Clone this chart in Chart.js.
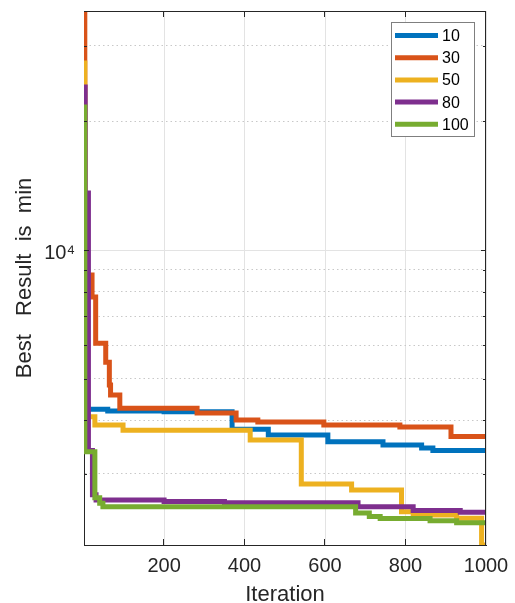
<!DOCTYPE html>
<html>
<head>
<meta charset="utf-8">
<script src="https://cdn.jsdelivr.net/npm/chart.js@4.4.1/dist/chart.umd.min.js"></script>
<style>
  html, body { margin: 0; padding: 0; background: #ffffff; }
  #wrap { width: 515px; height: 603px; }
</style>
</head>
<body>
<div id="wrap"><canvas id="chart" width="515" height="603"></canvas></div>
<script>
// Series labels and MATLAB default colours
const SERIES_LABELS = ['10', '30', '50', '80', '100'];
const SERIES_COLORS = ['#0072BD', '#D95319', '#EDB120', '#7E2F8E', '#77AC30'];

// Step points: iteration where a new best value starts
const iter10 = [1, 4, 60, 200, 369, 459, 607, 744, 840, 868, 1000];
const best10 = [5300, 4250, 4210, 4190, 3813, 3697, 3566, 3503, 3449, 3401, 3401];

const iter30 = [1, 3, 21, 30, 55, 64, 67, 90, 282, 379, 433, 597, 786, 913, 1000];
const best30 = [36200, 8743, 7767, 6062, 5473, 4837, 4584, 4273, 4162, 4006, 3964, 3900, 3858, 3667, 3667];

const iter50 = [1, 3, 28, 98, 414, 541, 666, 790, 819, 927, 989, 1000];
const best50 = [27350, 4080, 3900, 3796, 3598, 2840, 2749, 2447, 2403, 2362, 2046, 2046];

const iter80 = [1, 4, 12, 22, 31, 200, 350, 682, 819, 936, 1000];
const best80 = [24040, 13590, 3400, 2680, 2606, 2585, 2568, 2513, 2462, 2440, 2440];

const iter100 = [1, 3, 28, 40, 48, 676, 710, 737, 861, 927, 1000];
const best100 = [21590, 3380, 2640, 2560, 2513, 2430, 2385, 2360, 2330, 2305, 2305];

const ITERS = [iter10, iter30, iter50, iter80, iter100];
const BESTS = [best10, best30, best50, best80, best100];

// Axis limits and ticks
const X_MIN = 1, X_MAX = 1000;
const Y_MIN = 2046, Y_MAX = 36200;
const X_TICKS = [200, 400, 600, 800, 1000];
const Y_TICKS = [3000, 4000, 5000, 6000, 7000, 8000, 9000, 10000, 20000, 30000];
const Y_MAJOR = 10000;

const AXIS_COLOR = '#262626';
const FONT = "'Liberation Sans', Arial, Helvetica, sans-serif";

function toPoints(xs, ys) {
    return xs.map((x, i) => ({ x: x, y: ys[i] }));
}

// Box, inward tick marks and the legend, drawn like a MATLAB axes
const matlabFrame = {
    id: 'matlabFrame',
    afterDraw(chart) {
        const { ctx, chartArea: a, scales: { x, y } } = chart;
        ctx.save();
        ctx.strokeStyle = AXIS_COLOR;
        ctx.lineWidth = 1;
        ctx.beginPath();
        ctx.moveTo(a.left, a.top + 0.5);
        ctx.lineTo(a.right, a.top + 0.5);
        ctx.moveTo(a.right - 0.5, a.top);
        ctx.lineTo(a.right - 0.5, a.bottom);
        X_TICKS.forEach(v => {
            const px = Math.round(x.getPixelForValue(v)) - 0.5;
            ctx.moveTo(px, a.bottom);
            ctx.lineTo(px, a.bottom - 6);
            ctx.moveTo(px, a.top);
            ctx.lineTo(px, a.top + 6);
        });
        Y_TICKS.forEach(v => {
            const len = v === Y_MAJOR ? 5 : 3;
            const py = Math.round(y.getPixelForValue(v)) + 0.5;
            ctx.moveTo(a.left, py);
            ctx.lineTo(a.left + len, py);
            ctx.moveTo(a.right, py);
            ctx.lineTo(a.right - len, py);
        });
        ctx.stroke();

        // legend
        const bx = 391.5, by = 22.5, bw = 83, bh = 114;
        ctx.fillStyle = '#ffffff';
        ctx.fillRect(bx, by, bw, bh);
        ctx.strokeStyle = '#7f7f7f';
        ctx.strokeRect(bx, by, bw, bh);
        ctx.font = '16px ' + FONT;
        ctx.textBaseline = 'middle';
        ctx.textAlign = 'left';
        chart.data.datasets.forEach((ds, i) => {
            const ry = 35.5 + i * 22.2;
            ctx.strokeStyle = ds.borderColor;
            ctx.lineWidth = 5;
            ctx.beginPath();
            ctx.moveTo(395, ry);
            ctx.lineTo(438, ry);
            ctx.stroke();
            ctx.fillStyle = '#000000';
            ctx.fillText(ds.label, 442, ry + 1);
        });
        ctx.restore();
    }
};

function init() {
    const datasets = SERIES_LABELS.map((label, i) => ({
        label: label,
        data: toPoints(ITERS[i], BESTS[i]),
        borderColor: SERIES_COLORS[i],
        backgroundColor: SERIES_COLORS[i],
        borderWidth: 5,
        stepped: true,
        pointRadius: 0,
        fill: false,
        order: SERIES_LABELS.length - i
    }));

    new Chart(document.getElementById('chart'), {
        type: 'line',
        data: { datasets: datasets },
        options: {
            responsive: false,
            animation: false,
            layout: { padding: { left: 0, right: 29, top: 11, bottom: 0 } },
            plugins: {
                legend: { display: false },
                tooltip: { enabled: false }
            },
            scales: {
                x: {
                    type: 'linear',
                    min: X_MIN,
                    max: X_MAX,
                    afterBuildTicks: scale => { scale.ticks = X_TICKS.map(v => ({ value: v })); },
                    afterFit: scale => {
                        scale.height = 58;
                        scale.paddingLeft = 0;
                        scale.paddingRight = 0;
                    },
                    ticks: {
                        autoSkip: false,
                        maxRotation: 0,
                        padding: 9,
                        color: AXIS_COLOR,
                        font: { family: FONT, size: 20 },
                        callback: value => String(value)
                    },
                    grid: { color: '#e3e3e3', lineWidth: 1, drawTicks: false },
                    border: { color: AXIS_COLOR, width: 1 },
                    title: {
                        display: true,
                        text: 'Iteration',
                        color: AXIS_COLOR,
                        font: { family: FONT, size: 22, lineHeight: 1 },
                        padding: { top: 0, bottom: -2.5 }
                    }
                },
                y: {
                    type: 'logarithmic',
                    min: Y_MIN,
                    max: Y_MAX,
                    afterBuildTicks: scale => { scale.ticks = Y_TICKS.map(v => ({ value: v })); },
                    afterFit: scale => {
                        scale.width = 84;
                        scale.paddingTop = 0;
                        scale.paddingBottom = 0;
                    },
                    ticks: {
                        autoSkip: false,
                        padding: 9,
                        labelOffset: 3,
                        color: AXIS_COLOR,
                        font: { family: FONT, size: 20 },
                        callback: value => value === Y_MAJOR ? '10\u2074' : ''
                    },
                    grid: {
                        drawTicks: false,
                        lineWidth: 1,
                        color: c => (c.tick && c.tick.value === Y_MAJOR) ? '#e3e3e3' : '#c8c8c8'
                    },
                    border: {
                        color: AXIS_COLOR,
                        width: 1,
                        dash: c => (c.tick && c.tick.value !== Y_MAJOR) ? [1.5, 3] : []
                    },
                    title: {
                        display: true,
                        text: 'Best   Result  is  min',
                        color: AXIS_COLOR,
                        font: { family: FONT, size: 22 },
                        padding: { top: 12, bottom: 0 }
                    }
                }
            }
        },
        plugins: [matlabFrame]
    });
}

document.addEventListener('DOMContentLoaded', init);
</script>
</body>
</html>
